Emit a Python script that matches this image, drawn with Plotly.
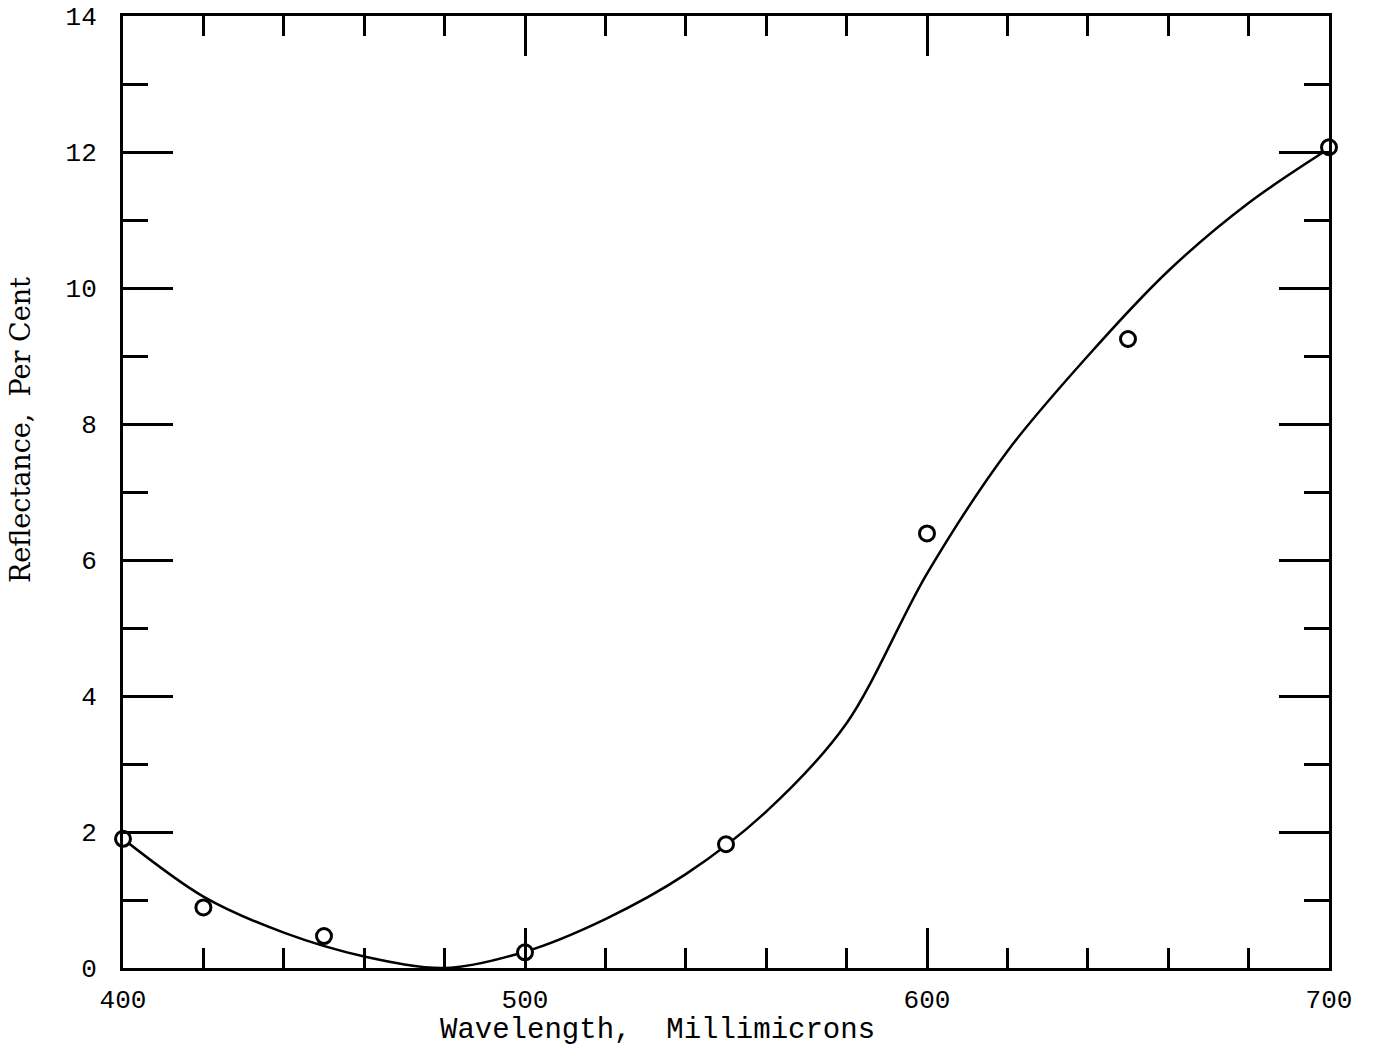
import plotly.graph_objects as go

# measured points
wavelength_pts = [400, 420, 450, 500, 550, 600, 650, 700]
reflect_pts = [1.9, 0.89, 0.47, 0.23, 1.82, 6.39, 9.25, 12.07]

# smooth fitted curve
curve_x = [400, 420, 440, 460, 480, 500, 520, 540, 560, 580, 600, 620, 640, 660, 680, 700]
curve_y = [1.9, 1.05, 0.52, 0.17, 0.0, 0.24, 0.72, 1.38, 2.3, 3.6, 5.8, 7.6, 9.0, 10.25, 11.25, 12.05]

x_tick_vals = [400, 500, 600, 700]
x_tick_text = ["400", "500", "600", "700"]
y_tick_vals = [0, 2, 4, 6, 8, 10, 12, 14]
y_tick_text = ["0", "2", "4", "6", "8", "10", "12", "14"]

MONO = "Liberation Mono"
SERIF = "DejaVu Serif"

fig = go.Figure()
fig.add_trace(go.Scatter(x=curve_x, y=curve_y, mode="lines",
                         line=dict(color="black", width=2.5, shape="spline", smoothing=0.9),
                         hoverinfo="skip", showlegend=False))
fig.add_trace(go.Scatter(x=wavelength_pts, y=reflect_pts, mode="markers",
                         marker=dict(symbol="circle", size=15, color="white",
                                     line=dict(color="black", width=3)),
                         showlegend=False, cliponaxis=False))

fig.update_layout(
    width=1374, height=1053,
    margin=dict(l=123, r=45, t=16, b=85, autoexpand=False),
    paper_bgcolor="white", plot_bgcolor="white",
    font=dict(family=MONO, color="black", size=24),
    xaxis=dict(range=[400, 700], tickvals=x_tick_vals, ticktext=x_tick_text,
               ticks="inside", ticklen=40, tickwidth=2.5, tickcolor="black",
               minor=dict(dtick=20, tick0=400, ticks="inside", ticklen=20, tickwidth=2.5, tickcolor="black"),
               showline=True, linewidth=3, linecolor="black", mirror="ticks",
               showgrid=False, zeroline=False, automargin=False,
               tickfont=dict(family=MONO, size=26), ticklabelstandoff=6),
    yaxis=dict(range=[0, 14], tickvals=y_tick_vals, ticktext=y_tick_text,
               ticks="inside", ticklen=50, tickwidth=2.5, tickcolor="black",
               minor=dict(dtick=1, tick0=0, ticks="inside", ticklen=25, tickwidth=2.5, tickcolor="black"),
               showline=True, linewidth=3, linecolor="black", mirror="ticks",
               showgrid=False, zeroline=False, automargin=False,
               tickfont=dict(family=MONO, size=26), ticklabelstandoff=18),
    annotations=[
        dict(text="Wavelength,  Millimicrons", xref="paper", yref="paper",
             x=0.4436, y=-0.066, xanchor="center", yanchor="middle", showarrow=False,
             font=dict(family=MONO, size=29, color="black")),
        dict(text="Reflectance,  Per Cent", xref="paper", yref="paper",
             x=-0.0855, y=0.565, xanchor="center", yanchor="middle", showarrow=False,
             textangle=-90, font=dict(family=SERIF, size=27, color="black")),
    ],
)

fig.write_html("out.html")
